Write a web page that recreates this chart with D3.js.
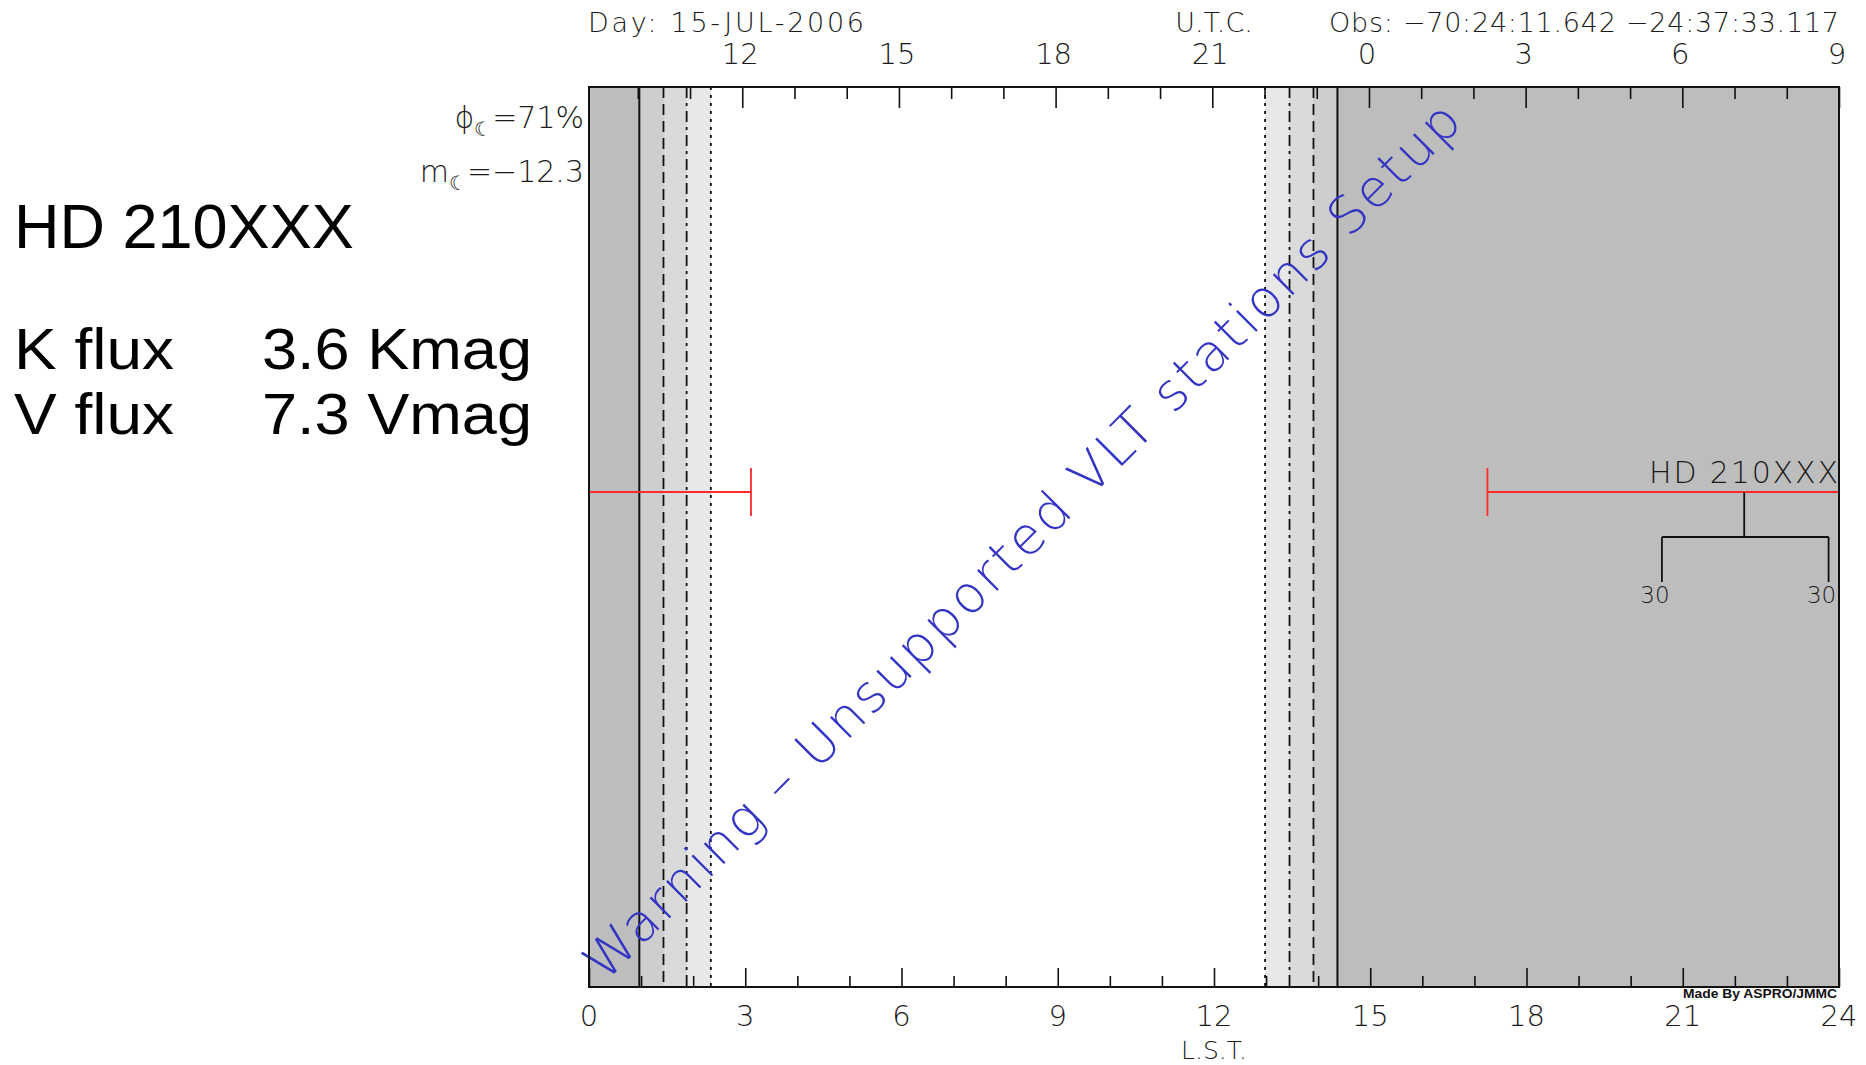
<!DOCTYPE html>
<html><head><meta charset="utf-8">
<script src="https://cdn.jsdelivr.net/npm/d3@7"></script>
<style>
html,body{margin:0;padding:0;background:#fff;}
svg{display:block;}
.h{font-family:"DejaVu Sans",sans-serif;font-weight:300;fill:#1a1a1a;}
.a{font-family:"Liberation Sans",Arial,sans-serif;fill:#000;}
</style></head>
<body>
<svg id="c" width="1866" height="1065"></svg>
<script>
// ---------- data ----------
const starName = "HD 210XXX";
const fluxLabels = ["K flux", "V flux"];
const fluxValues = ["3.6 Kmag", "7.3 Vmag"];
const dayLabel = "Day: 15-JUL-2006";
const utcLabel = "U.T.C.";
const obsLabel = "Obs: \u221270:24:11.642 \u221224:37:33.117";
const lstLabel = "L.S.T.";
const moonPhase = "=71%";
const moonMag = "=\u221212.3";
const warningText = "Warning \u2013 Unsupported VLT stations Setup";
const creditText = "Made By ASPRO/JMMC";

const lstTicks = d3.range(0, 25);             // LST hours
const lstMajor = [0, 3, 6, 9, 12, 15, 18, 21, 24];
const utcTicks = d3.range(10, 34);            // UTC hours (33 = 9 next day)
const utcMajor = [12, 15, 18, 21, 24, 27, 30, 33];
const utcAtLst24 = 33;
const siderealRate = 1.00274;

// night / twilight boundaries (LST hours)
const eveningLines = [0.966, 1.43, 1.875, 2.34];
const morningLines = [12.98, 13.45, 13.91, 14.37];
const lineStyles = ["solid", "dashed", "dashdot", "dotted"];
const bandFills = ["#bdbdbd", "#cecece", "#dadada", "#e8e8e8"];

// observability intervals (LST hours)
const observable = [[0, 3.11], [17.25, 24]];
const transitLst = 22.18;
const elevationMarks = [20.6, 23.8];
const elevationLabels = ["30", "30"];

// ---------- layout ----------
const svg = d3.select("#c");
const L = 589, R = 1839, T = 87, B = 987;
const x = d3.scaleLinear().domain([0, 24]).range([L, R]);

svg.append("rect").attr("x", L).attr("y", T).attr("width", R - L).attr("height", B - T).attr("fill", bandFills[0]);
for (let i = 0; i < 3; i++) {
  const a = eveningLines[i], b = eveningLines[i + 1];
  svg.append("rect").attr("x", x(a)).attr("y", T).attr("width", x(b) - x(a)).attr("height", B - T).attr("fill", bandFills[i + 1]);
}
for (let i = 0; i < 3; i++) {
  const a = morningLines[i], b = morningLines[i + 1];
  svg.append("rect").attr("x", x(a)).attr("y", T).attr("width", x(b) - x(a)).attr("height", B - T).attr("fill", bandFills[3 - i]);
}
svg.append("rect").attr("x", x(eveningLines[3])).attr("y", T).attr("width", x(morningLines[0]) - x(eveningLines[3])).attr("height", B - T).attr("fill", "#ffffff");

const dashFor = s => s === "dashed" ? "11,6" : s === "dashdot" ? "11,5,3,5" : s === "dotted" ? "3,5" : null;
eveningLines.forEach((v, i) => {
  svg.append("line").attr("x1", x(v)).attr("x2", x(v)).attr("y1", T).attr("y2", B)
    .attr("stroke", "#111").attr("stroke-width", i === 0 ? 2 : 1.8).attr("stroke-dasharray", dashFor(lineStyles[i]));
});
morningLines.forEach((v, i) => {
  const s = lineStyles[3 - i];
  svg.append("line").attr("x1", x(v)).attr("x2", x(v)).attr("y1", T).attr("y2", B)
    .attr("stroke", "#111").attr("stroke-width", s === "solid" ? 2 : 1.8).attr("stroke-dasharray", dashFor(s));
});

// warning text
const wx = 605, wy = 983;
svg.append("text").attr("class", "h").attr("x", wx).attr("y", wy)
  .attr("transform", `rotate(-45 ${wx} ${wy})`)
  .attr("font-size", 52).attr("textLength", 1215).attr("lengthAdjust", "spacing")
  .style("fill", "#3434c4").style("font-weight", 200)
  .text(warningText);

// bottom axis ticks (LST)
const bottomAxis = d3.axisTop(x).tickValues(lstTicks).tickFormat("").tickSizeOuter(0).tickSize(11);
const gb = svg.append("g").attr("transform", `translate(0,${B})`).call(bottomAxis);
gb.select(".domain").remove();
gb.selectAll(".tick line").attr("stroke", "#111").attr("stroke-width", 1.6)
  .attr("y2", d => lstMajor.includes(d) ? -19 : -11);
svg.selectAll(".lstlab").data(lstMajor).enter().append("text").attr("class", "h")
  .attr("x", d => x(d)).attr("y", 1026).attr("text-anchor", "middle").attr("font-size", 29).text(d => d);
svg.append("text").attr("class", "h").attr("x", x(12)).attr("y", 1059).attr("text-anchor", "middle").attr("font-size", 25).text(lstLabel);

// top axis ticks (UTC)
const xu = d3.scaleLinear().domain([utcAtLst24 - 24 / siderealRate, utcAtLst24]).range([L, R]);
const topAxis = d3.axisBottom(xu).tickValues(utcTicks).tickFormat("").tickSizeOuter(0).tickSize(12);
const gt = svg.append("g").attr("transform", `translate(0,${T})`).call(topAxis);
gt.select(".domain").remove();
gt.selectAll(".tick line").attr("stroke", "#111").attr("stroke-width", 1.6)
  .attr("y2", d => utcMajor.includes(d) ? 21 : 12);
svg.selectAll(".utclab").data(utcMajor).enter().append("text").attr("class", "h")
  .attr("x", d => xu(d) - 2).attr("y", 64).attr("text-anchor", "middle").attr("font-size", 29).text(d => d % 24);

svg.append("text").attr("class", "h").attr("x", 588).attr("y", 32).attr("font-size", 27).attr("textLength", 276).text(dayLabel);
svg.append("text").attr("class", "h").attr("x", 1214).attr("y", 32).attr("text-anchor", "middle").attr("font-size", 27).text(utcLabel);
svg.append("text").attr("class", "h").attr("x", 1839).attr("y", 32).attr("text-anchor", "end").attr("font-size", 27).attr("textLength", 510).text(obsLabel);

// observability bars
const yBar = 492;
observable.forEach(([a, b]) => {
  svg.append("line").attr("x1", x(a)).attr("x2", x(b)).attr("y1", yBar).attr("y2", yBar).attr("stroke", "#ff2a2a").attr("stroke-width", 1.8);
  [a, b].forEach(v => svg.append("line").attr("x1", x(v)).attr("x2", x(v)).attr("y1", yBar - 24).attr("y2", yBar + 24).attr("stroke", "#ff2a2a").attr("stroke-width", 1.8));
});
svg.append("text").attr("class", "h").attr("x", 1838).attr("y", 483).attr("text-anchor", "end").attr("font-size", 30)
  .attr("textLength", 189).text(starName);

// transit tree
const yH = 537, yE = 582;
svg.append("line").attr("x1", x(transitLst)).attr("x2", x(transitLst)).attr("y1", yBar).attr("y2", yH).attr("stroke", "#111").attr("stroke-width", 1.8);
svg.append("line").attr("x1", x(elevationMarks[0])).attr("x2", x(elevationMarks[1])).attr("y1", yH).attr("y2", yH).attr("stroke", "#111").attr("stroke-width", 1.8);
elevationMarks.forEach((v, i) => {
  svg.append("line").attr("x1", x(v)).attr("x2", x(v)).attr("y1", yH).attr("y2", yE).attr("stroke", "#111").attr("stroke-width", 1.8);
  svg.append("text").attr("class", "h").attr("x", x(v) - 7).attr("y", 603).attr("text-anchor", "middle").attr("font-size", 23).text(elevationLabels[i]);
});

// frame
svg.append("rect").attr("x", L).attr("y", T).attr("width", R - L).attr("height", B - T)
  .attr("fill", "none").attr("stroke", "#111").attr("stroke-width", 2);

// credit
svg.append("text").attr("x", 1837).attr("y", 998).attr("text-anchor", "end")
  .attr("font-family", "Liberation Sans Narrow, Liberation Sans, sans-serif").attr("font-weight", "bold")
  .attr("font-size", 13).attr("textLength", 154).attr("lengthAdjust", "spacingAndGlyphs").attr("fill", "#111").text(creditText);

// moon labels
const moon1 = svg.append("text").attr("class", "h").attr("x", 584).attr("y", 128).attr("text-anchor", "end").attr("font-size", 30);
moon1.append("tspan").text("\u03D5");
moon1.append("tspan").attr("font-size", 20).attr("dy", 8).text("\u263E");
moon1.append("tspan").attr("dy", -8).text(moonPhase);
const moon2 = svg.append("text").attr("class", "h").attr("x", 584).attr("y", 182).attr("text-anchor", "end").attr("font-size", 30);
moon2.append("tspan").text("m");
moon2.append("tspan").attr("font-size", 20).attr("dy", 8).text("\u263E");
moon2.append("tspan").attr("dy", -8).text(moonMag);

// left info
svg.append("text").attr("class", "a").attr("x", 14).attr("y", 248).attr("font-size", 63).text(starName);
const labelWidths = [160, 160], valueWidths = [270, 270];
fluxLabels.forEach((t, i) => {
  svg.append("text").attr("class", "a").attr("x", 14).attr("y", 369 + i * 65).attr("font-size", 58)
    .attr("textLength", labelWidths[i]).attr("lengthAdjust", "spacingAndGlyphs").text(t);
  svg.append("text").attr("class", "a").attr("x", 262).attr("y", 369 + i * 65).attr("font-size", 58)
    .attr("textLength", valueWidths[i]).attr("lengthAdjust", "spacingAndGlyphs").text(fluxValues[i]);
});
</script>
</body></html>
